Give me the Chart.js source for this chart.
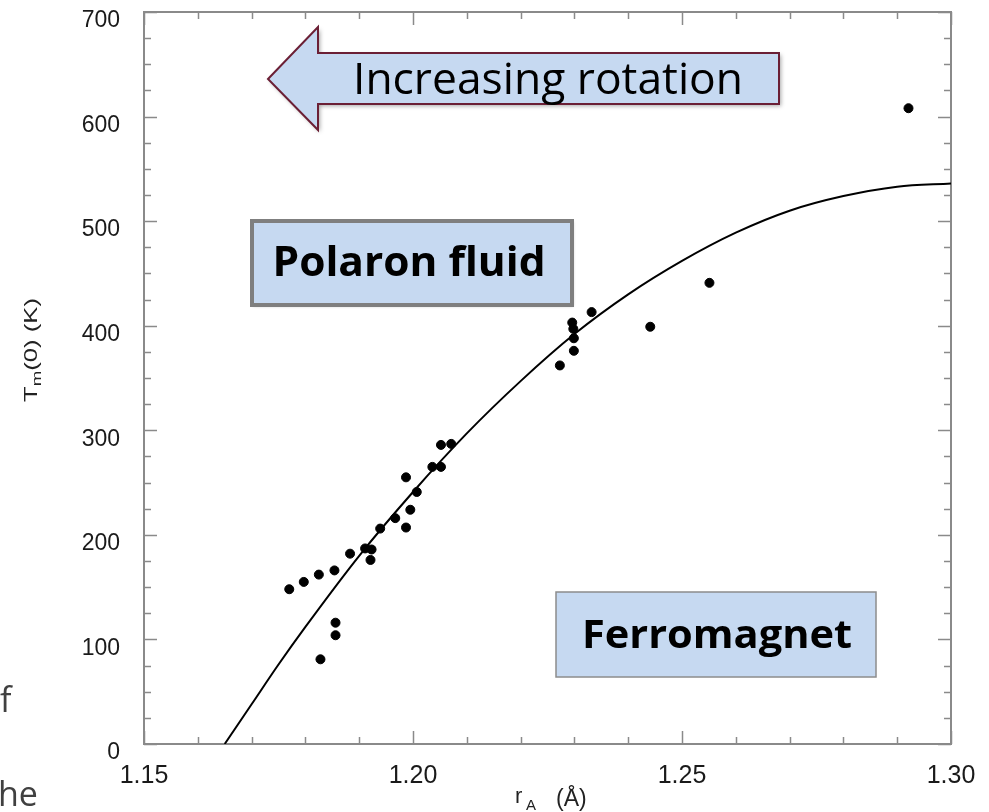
<!DOCTYPE html>
<html>
<head>
<meta charset="utf-8">
<script src="https://cdn.jsdelivr.net/npm/chart.js@4.4.0/dist/chart.umd.min.js"></script>
<style>
    html, body { margin: 0; padding: 0; background: #fff; }
    #wrap { width: 989px; height: 812px; position: relative; }
</style>
</head>
<body>
<div id="wrap"><canvas id="chart" width="989" height="812"></canvas></div>
<script>
// Measured points: r_A (Å) vs T_m(0) (K)
const rA = [1.1770, 1.1797, 1.1825, 1.1854, 1.1883, 1.1911, 1.1923, 1.1921, 1.1939, 1.1967,
            1.1987, 1.1995, 1.1987, 1.2007, 1.2036, 1.2052, 1.2052, 1.2071, 1.1856, 1.1856,
            1.1828, 1.2273, 1.2296, 1.2298, 1.2299, 1.2299, 1.2332, 1.2441, 1.2551, 1.2921];
const tm = [148, 155, 162, 166, 182, 187, 186, 176, 206, 216,
            207, 224, 255, 241, 265, 265, 286, 287, 116, 104,
            81, 362, 403, 397, 388, 376, 413, 399, 441, 608];

// Fitted curve
const curveR = [1.165, 1.17, 1.175, 1.18, 1.19, 1.20, 1.21, 1.22, 1.23, 1.24, 1.25, 1.26, 1.27, 1.28, 1.29, 1.30];
const curveT = [0, 38, 76, 112, 180, 241, 297, 347, 392, 430, 462, 489, 510, 524, 533, 536];

// Axis ticks
const xTicks = [1.15, 1.20, 1.25, 1.30];
const yTicks = [0, 100, 200, 300, 400, 500, 600, 700];

const FRAME = '#8a8a8a';
const BOX_FILL = '#c6d9f1';
const SANS = '"Liberation Sans", Arial, sans-serif';

// inward ticks + box frame, drawn through the chart scales
const framePlugin = {
    id: 'frame',
    beforeDatasetsDraw(chart) {
        const { ctx, chartArea: a, scales: { x, y } } = chart;
        ctx.save();
        ctx.strokeStyle = FRAME;
        ctx.lineWidth = 2;
        ctx.strokeRect(a.left, a.top, a.right - a.left, a.bottom - a.top);

        ctx.lineWidth = 1.5;
        ctx.beginPath();
        for (let i = 0; i <= 15; i++) {
            const px = Math.round(x.getPixelForValue(1.15 + i * 0.01)) + 0.5;
            const len = i % 5 === 0 ? 13 : 7;
            ctx.moveTo(px, a.bottom); ctx.lineTo(px, a.bottom - len);
            ctx.moveTo(px, a.top); ctx.lineTo(px, a.top + len);
        }
        for (let i = 0; i <= 28; i++) {
            const py = Math.round(y.getPixelForValue(i * 25)) + 0.5;
            const len = i % 4 === 0 ? 13 : 7;
            ctx.moveTo(a.left, py); ctx.lineTo(a.left + len, py);
            ctx.moveTo(a.right, py); ctx.lineTo(a.right - len, py);
        }
        ctx.stroke();
        ctx.restore();
    }
};

// text squeezed to a target width (slide font is narrower than what we have)
function fitText(ctx, text, cx, baseline, width, font) {
    ctx.font = font;
    const w = ctx.measureText(text).width;
    ctx.save();
    ctx.translate(cx, baseline);
    ctx.scale(width / w, 1);
    ctx.textAlign = 'center';
    ctx.textBaseline = 'alphabetic';
    ctx.fillText(text, 0, 0);
    ctx.restore();
}

const overlayPlugin = {
    id: 'overlay',
    afterDraw(chart) {
        const ctx = chart.ctx;
        ctx.save();

        // y axis title: T_m(0) (K), rotated
        ctx.fillStyle = '#222';
        ctx.save();
        ctx.translate(37, 350);
        ctx.rotate(-Math.PI / 2);
        ctx.textBaseline = 'alphabetic';
        const big = '18px ' + SANS, small = '13px ' + SANS;
        ctx.font = big;
        const w1 = ctx.measureText('T').width, w3 = ctx.measureText('(0) (K)').width;
        ctx.font = small;
        const w2 = ctx.measureText('m').width;
        const total = w1 + w2 + w3;
        ctx.scale(104 / total, 1);
        let sx = -total / 2;
        ctx.font = big;
        ctx.fillText('T', sx, 0); sx += w1;
        ctx.font = small;
        ctx.fillText('m', sx, 4); sx += w2;
        ctx.font = big;
        ctx.fillText('(0) (K)', sx, 0);
        ctx.restore();

        // x axis title: r_A (Å)
        ctx.textBaseline = 'alphabetic';
        ctx.font = '22px ' + SANS;
        ctx.fillText('r', 515, 803);
        ctx.font = '15px ' + SANS;
        ctx.fillText('A', 526, 810);
        ctx.font = '23px ' + SANS;
        ctx.fillText('(\u00C5)', 556, 806);

        // "Increasing rotation" arrow
        ctx.save();
        ctx.shadowColor = 'rgba(0,0,0,0.35)';
        ctx.shadowBlur = 4;
        ctx.shadowOffsetX = 2;
        ctx.shadowOffsetY = 2;
        ctx.beginPath();
        ctx.moveTo(268, 79);
        ctx.lineTo(318, 27);
        ctx.lineTo(318, 53);
        ctx.lineTo(779, 53);
        ctx.lineTo(779, 104);
        ctx.lineTo(318, 104);
        ctx.lineTo(318, 130);
        ctx.closePath();
        ctx.fillStyle = BOX_FILL;
        ctx.fill();
        ctx.restore();
        ctx.strokeStyle = '#6b1f35';
        ctx.lineWidth = 2;
        ctx.stroke();
        ctx.fillStyle = '#000';
        fitText(ctx, 'Increasing rotation', 548, 94, 390, '44px "Open Sans", sans-serif');

        // Polaron fluid box
        ctx.save();
        ctx.shadowColor = 'rgba(0,0,0,0.3)';
        ctx.shadowBlur = 3;
        ctx.shadowOffsetX = 1;
        ctx.shadowOffsetY = 1;
        ctx.fillStyle = BOX_FILL;
        ctx.fillRect(252, 221, 320, 84);
        ctx.restore();
        ctx.strokeStyle = '#7f7f7f';
        ctx.lineWidth = 4;
        ctx.strokeRect(252, 221, 320, 84);
        ctx.fillStyle = '#000';
        fitText(ctx, 'Polaron fluid', 409, 276, 273, 'bold 41px "Open Sans", sans-serif');

        // Ferromagnet box
        ctx.fillStyle = BOX_FILL;
        ctx.fillRect(556, 592, 320, 85);
        ctx.strokeStyle = '#8c8c8c';
        ctx.lineWidth = 1.5;
        ctx.strokeRect(556, 592, 320, 85);
        ctx.fillStyle = '#000';
        fitText(ctx, 'Ferromagnet', 717, 648, 270, 'bold 39px "Open Sans", sans-serif');

        // clipped slide text at the left edge
        ctx.fillStyle = '#404040';
        ctx.font = '34px "Open Sans", sans-serif';
        ctx.textAlign = 'left';
        ctx.fillText('f', 0, 712);
        ctx.fillText('he', -2, 806);

        ctx.restore();
    }
};

new Chart(document.getElementById('chart'), {
    type: 'scatter',
    data: {
        datasets: [
            {
                label: 'data',
                data: rA.map((r, i) => ({ x: r, y: tm[i] })),
                backgroundColor: '#000',
                borderColor: '#000',
                pointRadius: 4.5,
                showLine: false
            },
            {
                label: 'fit',
                data: curveR.map((r, i) => ({ x: r, y: curveT[i] })),
                showLine: true,
                borderColor: '#000',
                borderWidth: 2,
                pointRadius: 0,
                cubicInterpolationMode: 'monotone',
                fill: false
            }
        ]
    },
    options: {
        responsive: false,
        animation: false,
        devicePixelRatio: 1,
        layout: { padding: { top: 12, right: 38, left: 0, bottom: 0 } },
        plugins: { legend: { display: false }, tooltip: { enabled: false } },
        scales: {
            x: {
                type: 'linear',
                min: 1.15,
                max: 1.30,
                afterBuildTicks: s => { s.ticks = xTicks.map(v => ({ value: v })); },
                afterFit: s => { s.height = 68; s.paddingLeft = 0; s.paddingRight = 0; },
                grid: { display: false, drawTicks: false },
                border: { display: false },
                ticks: {
                    padding: 17,
                    color: '#1a1a1a',
                    font: { family: SANS, size: 25 },
                    maxRotation: 0,
                    callback: v => v.toFixed(2)
                }
            },
            y: {
                type: 'linear',
                min: 0,
                max: 700,
                afterBuildTicks: s => { s.ticks = yTicks.map(v => ({ value: v })); },
                afterFit: s => { s.width = 144; s.paddingTop = 0; s.paddingBottom = 0; },
                grid: { display: false, drawTicks: false },
                border: { display: false },
                ticks: {
                    padding: 24,
                    labelOffset: 9,
                    color: '#1a1a1a',
                    font: { family: SANS, size: 23 }
                }
            }
        }
    },
    plugins: [framePlugin, overlayPlugin]
});
</script>
</body>
</html>
